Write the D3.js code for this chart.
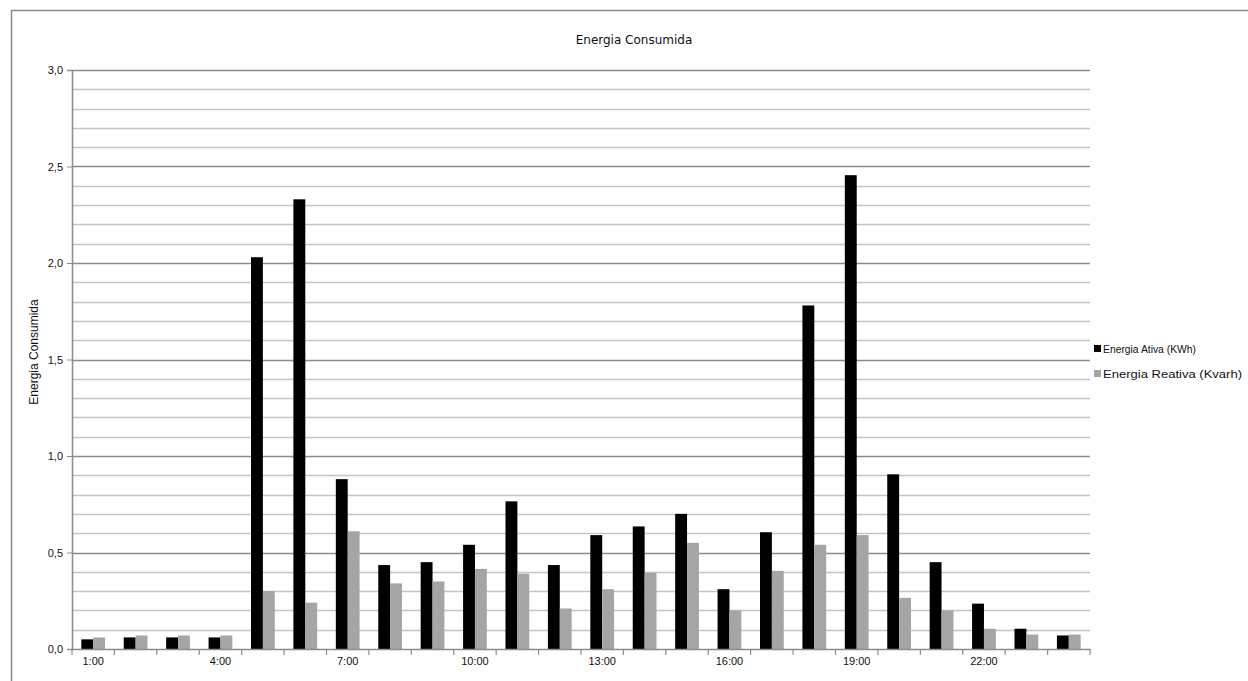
<!DOCTYPE html>
<html>
<head>
<meta charset="utf-8">
<script src="https://cdn.jsdelivr.net/npm/d3@7"></script>
<style>
  html, body { margin: 0; padding: 0; background: #fff; }
  svg { display: block; }
</style>
</head>
<body>
<svg id="chart" width="1248" height="681"></svg>
<script>
// ---- data ----
const hours = ["1:00","2:00","3:00","4:00","5:00","6:00","7:00","8:00","9:00","10:00","11:00","12:00",
               "13:00","14:00","15:00","16:00","17:00","18:00","19:00","20:00","21:00","22:00","23:00","24:00"];
const shownHourLabels = ["1:00","4:00","7:00","10:00","13:00","16:00","19:00","22:00"];
const energiaAtiva = [0.05,0.06,0.06,0.06,2.03,2.33,0.88,0.435,0.45,0.54,0.765,0.435,
                      0.59,0.635,0.70,0.31,0.605,1.78,2.455,0.905,0.45,0.235,0.105,0.07];
const energiaReativa = [0.06,0.07,0.07,0.07,0.30,0.24,0.61,0.34,0.35,0.415,0.39,0.21,
                        0.31,0.395,0.55,0.20,0.405,0.54,0.59,0.265,0.20,0.105,0.075,0.075];
const seriesNames = ["Energia Ativa (KWh)", "Energia Reativa (Kvarh)"];
const seriesColors = ["#000000", "#a5a5a5"];
const yMajorTicks = [0, 0.5, 1.0, 1.5, 2.0, 2.5, 3.0];
const chartTitle = "Energia Consumida";
const yTitle = "Energia Consumida";

(function () {
// ---- layout ----
const svg = d3.select("#chart");
const pLeft = 72, pRight = 1090, pTop = 70, pBottom = 649;

// frame
svg.append("rect").attr("x", 11.5).attr("y", 10.5).attr("width", 1300).attr("height", 800)
  .attr("fill", "none").attr("stroke", "#8a8a8a").attr("stroke-width", 1.5);

const x = d3.scaleBand().domain(hours).range([pLeft, pRight]).padding(0);
const groupFrac = 0.56;
const xs = d3.scaleBand().domain([0, 1])
  .range([0, x.bandwidth() * groupFrac]);
const y = d3.scaleLinear().domain([0, 3]).range([pBottom, pTop]);

// gridlines
const minor = d3.range(1, 30).map(i => i / 10).filter(v => Math.round(v * 10) % 5 !== 0);
svg.append("g").selectAll("line").data(minor).join("line")
  .attr("x1", pLeft).attr("x2", pRight)
  .attr("y1", d => Math.round(y(d)) + 0.5).attr("y2", d => Math.round(y(d)) + 0.5)
  .attr("stroke", "#c4c4c4").attr("stroke-width", 1.6);
svg.append("g").selectAll("line").data(yMajorTicks.filter(v => v > 0)).join("line")
  .attr("x1", pLeft).attr("x2", pRight)
  .attr("y1", d => Math.round(y(d)) + 0.5).attr("y2", d => Math.round(y(d)) + 0.5)
  .attr("stroke", "#8c8c8c").attr("stroke-width", 1.6);

// bars
const data = hours.map((h, i) => ({ h, vals: [energiaAtiva[i], energiaReativa[i]] }));
const groupOffset = x.bandwidth() * (1 - groupFrac) / 2;
const g = svg.append("g").selectAll("g").data(data).join("g")
  .attr("transform", d => `translate(${x(d.h) + groupOffset},0)`);
g.selectAll("rect").data(d => d.vals.map((v, k) => ({ v, k }))).join("rect")
  .attr("x", d => xs(d.k))
  .attr("width", xs.bandwidth())
  .attr("y", d => y(d.v))
  .attr("height", d => y(0) - y(d.v))
  .attr("fill", d => seriesColors[d.k]);

// y axis
const yAxis = d3.axisLeft(y).tickValues(yMajorTicks).tickSize(5).tickPadding(4)
  .tickFormat(d => d3.format(".1f")(d).replace(".", ","));
const ya = svg.append("g").attr("transform", `translate(${pLeft},0)`).call(yAxis);
ya.select(".domain").attr("stroke", "#8c8c8c").attr("stroke-width", 1.5);
ya.selectAll(".tick line").attr("stroke", "#8c8c8c");
ya.selectAll("text").attr("font-family", "Liberation Sans, Arial, sans-serif")
  .attr("font-size", 11).attr("fill", "#111");

// x axis
const xa = svg.append("g").attr("transform", `translate(0,${pBottom})`)
  .call(d3.axisBottom(x).tickSize(0).tickPadding(8)
    .tickFormat(d => shownHourLabels.includes(d) ? d : ""));
xa.select(".domain").attr("stroke", "#8c8c8c").attr("stroke-width", 1.5);
xa.selectAll("text").attr("font-family", "Liberation Sans, Arial, sans-serif")
  .attr("font-size", 11).attr("fill", "#111");
// boundary ticks
const bounds = hours.map(h => x(h)).concat([pRight]);
svg.append("g").selectAll("line").data(bounds).join("line")
  .attr("x1", d => d).attr("x2", d => d)
  .attr("y1", pBottom).attr("y2", pBottom + 6)
  .attr("stroke", "#8c8c8c").attr("stroke-width", 1.2);

// title
svg.append("text").attr("x", 634).attr("y", 44).attr("text-anchor", "middle")
  .attr("font-family", "DejaVu Sans, sans-serif").attr("font-size", 12).attr("fill", "#111")
  .text(chartTitle);

// y title
svg.append("text").attr("transform", "translate(38,352) rotate(-90)").attr("text-anchor", "middle")
  .attr("font-family", "Liberation Sans, Arial, sans-serif").attr("font-size", 12).attr("fill", "#111")
  .text(yTitle);

// legend
const lg = svg.append("g").attr("transform", "translate(1094,349)");
seriesNames.forEach((n, i) => {
  lg.append("rect").attr("x", 0).attr("y", i * 25 - 4).attr("width", 7).attr("height", 7)
    .attr("fill", seriesColors[i]);
  lg.append("text").attr("x", 9).attr("y", i * 25 + 4)
    .attr("font-family", "Liberation Sans, Arial, sans-serif").attr("font-size", 11)
    .attr("textLength", i === 0 ? 93 : 139).attr("lengthAdjust", "spacingAndGlyphs")
    .attr("fill", "#111").text(n);
});
})();
</script>
</body>
</html>
